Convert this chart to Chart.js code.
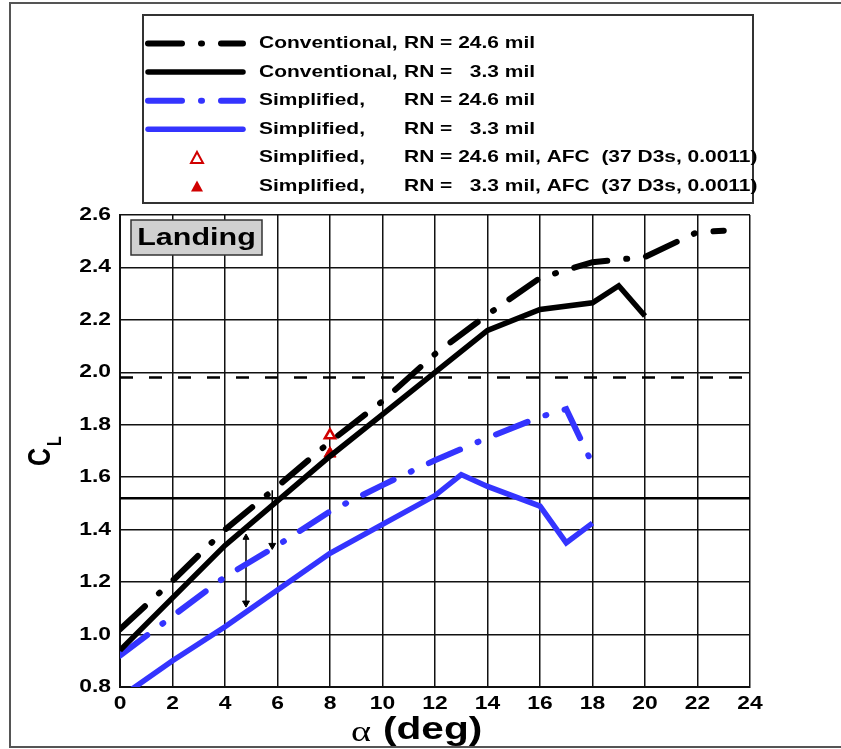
<!DOCTYPE html>
<html>
<head>
<meta charset="utf-8">
<script src="https://cdn.jsdelivr.net/npm/chart.js@4"></script>
<style>
  html, body { margin: 0; padding: 0; background: #fff; }
  canvas { display: block; }
</style>
</head>
<body>
<canvas id="chart" width="841" height="749"></canvas>
<script>
// series
const conv246Alpha = [0, 2, 4, 6, 8, 10, 12, 14, 16, 18, 20, 22, 23];
const conv246CL = [1.02, 1.205, 1.40, 1.565, 1.735, 1.89, 2.07, 2.22, 2.36, 2.42, 2.44, 2.535, 2.54];

const conv33Alpha = [0, 2, 4, 6, 8, 10, 12, 14, 16, 18, 19, 20];
const conv33CL = [0.94, 1.14, 1.34, 1.51, 1.68, 1.84, 2.00, 2.16, 2.24, 2.265, 2.33, 2.215];

const simp246Alpha = [0, 2, 4, 6, 8, 10, 12, 14, 16, 17, 18];
const simp246CL = [0.92, 1.07, 1.22, 1.34, 1.47, 1.57, 1.665, 1.75, 1.83, 1.86, 1.65];

const simp33Alpha = [0, 2, 4, 6, 8, 10, 12, 13, 14, 16, 17, 18];
const simp33CL = [0.76, 0.90, 1.03, 1.17, 1.31, 1.42, 1.53, 1.61, 1.565, 1.49, 1.35, 1.425];

const afcAlpha = [8];
const afc246CL = [1.76];
const afc33CL = [1.69];

const refDashedCL = 1.98;
const refSolidCL = 1.52;

// the two difference arrows
const arrowAlpha = [4.8, 5.8];
const arrowTop = [1.37, 1.55];
const arrowBottom = [1.12, 1.34];

const xTicks = [0, 2, 4, 6, 8, 10, 12, 14, 16, 18, 20, 22, 24];
const legendNames = [
  ["Conventional,", "RN = 24.6 mil"],
  ["Conventional,", "RN =   3.3 mil"],
  ["Simplified,", "RN = 24.6 mil"],
  ["Simplified,", "RN =   3.3 mil"],
  ["Simplified,", "RN = 24.6 mil, AFC  (37 D3s, 0.0011)"],
  ["Simplified,", "RN =   3.3 mil, AFC  (37 D3s, 0.0011)"],
];

const BLUE = "#3434ff";
const RED = "#d00000";
const SX = 1.27; // the original figure is stretched sideways

const pts = (xs, ys) => xs.map((x, i) => ({ x: x, y: ys[i] }));

function stretchText(ctx, text, x, y, font, align, rot) {
  ctx.save();
  ctx.font = font;
  ctx.translate(x, y);
  ctx.scale(SX, 1);
  if (rot) ctx.rotate(rot);
  ctx.textAlign = align || "left";
  ctx.fillText(text, 0, 0);
  ctx.restore();
}

const dashDot = [34, 19, 1, 19];

const figure = {
  id: "figure",
  afterDraw(chart) {
    const ctx = chart.ctx;
    const xs = chart.scales.x, ys = chart.scales.y;
    ctx.save();
    ctx.fillStyle = "#000";
    ctx.textBaseline = "middle";

    // tick labels
    xTicks.forEach(v => {
      stretchText(ctx, String(v), xs.getPixelForValue(v), 704, "bold 18px 'Liberation Sans'", "center");
    });
    ys.ticks.forEach(t => {
      stretchText(ctx, t.value.toFixed(1), 111, ys.getPixelForValue(t.value), "bold 18px 'Liberation Sans'", "right");
    });

    // axis titles
    ctx.textBaseline = "alphabetic";
    stretchText(ctx, "\u03B1", 351, 741, "30px 'Liberation Serif'", "left");
    stretchText(ctx, "(deg)", 383, 739, "bold 32px 'Liberation Sans'", "left");
    stretchText(ctx, "C", 50, 466, "bold 25px 'Liberation Sans'", "left", -Math.PI / 2);
    stretchText(ctx, "L", 61, 446, "bold 16px 'Liberation Sans'", "left", -Math.PI / 2);

    // Landing tag
    const lx = chart.chartArea.left + 11, ly = chart.chartArea.top + 5;
    ctx.fillStyle = "#d0d0d0";
    ctx.fillRect(lx, ly, 131, 35);
    ctx.strokeStyle = "#333";
    ctx.lineWidth = 1.5;
    ctx.strokeRect(lx, ly, 131, 35);
    ctx.fillStyle = "#000";
    ctx.textBaseline = "middle";
    stretchText(ctx, "Landing", lx + 65.5, ly + 18, "bold 24px 'Liberation Sans'", "center");

    // legend box
    ctx.strokeStyle = "#333";
    ctx.lineWidth = 2;
    ctx.strokeRect(143, 15, 610, 188);
    legendNames.forEach((n, i) => {
      const y = 43.5 + i * 28.6;
      const ds = chart.data.datasets[i];
      if (i < 4) {
        ctx.save();
        ctx.strokeStyle = ds.borderColor;
        ctx.lineWidth = ds.borderWidth;
        ctx.lineCap = "round";
        ctx.setLineDash(ds.borderDash || []);
        ctx.beginPath();
        ctx.moveTo(148, y);
        ctx.lineTo(243, y);
        ctx.stroke();
        ctx.restore();
      } else {
        ctx.save();
        ctx.beginPath();
        ctx.moveTo(197, y - 6);
        ctx.lineTo(203, y + 5);
        ctx.lineTo(191, y + 5);
        ctx.closePath();
        if (i === 5) { ctx.fillStyle = RED; ctx.fill(); }
        else { ctx.strokeStyle = RED; ctx.lineWidth = 2; ctx.stroke(); }
        ctx.restore();
      }
      ctx.fillStyle = "#000";
      stretchText(ctx, n[0], 259, y, "bold 16.5px 'Liberation Sans'", "left");
      stretchText(ctx, n[1], 404, y, "bold 16.5px 'Liberation Sans'", "left");
    });

    // outer frame
    ctx.strokeStyle = "#555";
    ctx.lineWidth = 2;
    ctx.strokeRect(10, 3, 840, 744);
    ctx.restore();
  }
};

new Chart(document.getElementById("chart"), {
  type: "line",
  data: {
    datasets: [
      {
        data: pts(conv246Alpha, conv246CL),
        borderColor: "#000", borderWidth: 6, borderDash: dashDot,
        borderCapStyle: "round", pointRadius: 0,
      },
      {
        data: pts(conv33Alpha, conv33CL),
        borderColor: "#000", borderWidth: 5.5, pointRadius: 0,
      },
      {
        data: pts(simp246Alpha, simp246CL),
        borderColor: BLUE, borderWidth: 6, borderDash: dashDot,
        borderCapStyle: "round", pointRadius: 0,
      },
      {
        data: pts(simp33Alpha, simp33CL),
        borderColor: BLUE, borderWidth: 5.5, pointRadius: 0,
      },
      {
        data: pts(afcAlpha, afc246CL),
        showLine: false, pointStyle: "triangle", pointRadius: 6,
        pointBackgroundColor: "#fff", pointBorderColor: RED, pointBorderWidth: 2.5,
      },
      {
        data: pts(afcAlpha, afc33CL),
        showLine: false, pointStyle: "triangle", pointRadius: 7,
        pointBackgroundColor: RED, pointBorderColor: RED, pointBorderWidth: 1,
      },
      {
        data: [{ x: 0, y: refDashedCL }, { x: 24, y: refDashedCL }],
        borderColor: "#000", borderWidth: 2.5, borderDash: [13, 16], pointRadius: 0,
      },
      {
        data: [{ x: 0, y: refSolidCL }, { x: 24, y: refSolidCL }],
        borderColor: "#000", borderWidth: 2.5, pointRadius: 0,
      },
      {
        data: [{ x: arrowAlpha[0], y: arrowTop[0] }, { x: arrowAlpha[0], y: arrowBottom[0] }],
        borderColor: "#000", borderWidth: 1.5,
        pointStyle: "triangle", pointRadius: [3.5, 4], pointRotation: [0, 180],
        pointBackgroundColor: "#000", pointBorderColor: "#000", pointBorderWidth: 1,
      },
      {
        data: [{ x: arrowAlpha[1], y: arrowTop[1] }, { x: arrowAlpha[1], y: arrowBottom[1] }],
        borderColor: "#000", borderWidth: 1.5,
        pointStyle: "triangle", pointRadius: [0, 4], pointRotation: [0, 180],
        pointBackgroundColor: "#000", pointBorderColor: "#000", pointBorderWidth: 1,
      },
    ],
  },
  options: {
    responsive: false,
    animation: false,
    layout: { padding: { left: 120, right: 91, top: 215, bottom: 62 } },
    scales: {
      x: {
        type: "linear",
        min: 0,
        max: 24,
        ticks: { display: false, stepSize: 2 },
        grid: { color: "#111", lineWidth: 1.5, drawTicks: false },
        border: { color: "#111", width: 2 },
      },
      y: {
        min: 0.8,
        max: 2.6,
        ticks: { display: false, stepSize: 0.2 },
        grid: { color: "#111", lineWidth: 1.5, drawTicks: false },
        border: { color: "#111", width: 2 },
      },
    },
    plugins: {
      legend: { display: false },
      tooltip: { enabled: false },
    },
  },
  plugins: [figure],
});
</script>
</body>
</html>
